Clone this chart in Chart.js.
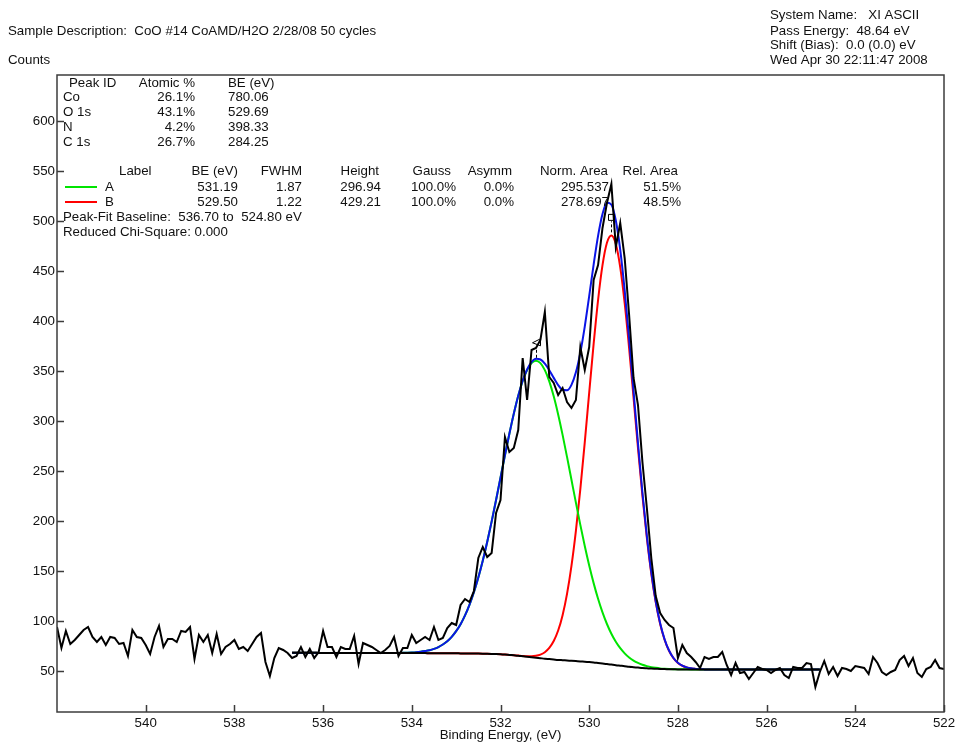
<!DOCTYPE html>
<html>
<head>
<meta charset="utf-8">
<title>O 1s peak fit</title>
<script src="https://cdn.jsdelivr.net/npm/chart.js@4.4.1/dist/chart.umd.min.js"></script>
<style>
  html, body { margin: 0; padding: 0; background: #fff; }
</style>
</head>
<body>
<canvas id="spectrum" width="956" height="744"></canvas>
<script>
// Raw O 1s counts, 542.0 -> 522.0 eV in 0.1 eV steps
const energyStart = 542.0;
const energyStep = 0.1;
const counts = [
  94, 73, 90, 77, 81, 86, 91, 94, 84, 79,
  84, 76, 84, 83, 77, 78, 65, 91, 84, 83,
  76, 67, 84, 95, 74, 82, 82, 79, 90, 89,
  94, 62, 86, 79, 86, 68, 87, 67, 74, 77,
  81, 72, 74, 70, 77, 84, 88, 59, 45, 63,
  73, 71, 68, 63, 65, 74, 64, 72, 63, 69,
  90, 74, 74, 64, 74, 72, 72, 85, 57, 78,
  76, 74, 71, 68, 71, 75, 84, 65, 73, 73,
  86, 78, 81, 84, 81, 94, 81, 83, 93, 98,
  96, 116, 122, 119, 130, 163, 174, 164, 168, 208,
  221, 284, 269, 273, 291, 363, 321, 371, 373, 381,
  409, 344, 338, 326, 333, 319, 313, 321, 374, 351,
  374, 441, 456, 493, 518, 537, 474, 498, 463, 406,
  343, 316, 259, 213, 163, 125, 108, 101, 96, 93,
  63, 76, 68, 64, 59, 53, 64, 62, 64, 64,
  69, 56, 46, 58, 48, 49, 42, 48, 54, 52,
  51, 48, 51, 53, 46, 43, 54, 53, 53, 58,
  57, 34, 49, 60, 47, 54, 45, 53, 52, 50,
  55, 54, 53, 47, 64, 58, 49, 46, 49, 51,
  61, 65, 55, 63, 48, 44, 52, 54, 61, 53,
  52
];

// Shirley background, 536.70 -> 524.80 eV, same step
const baselineStart = 536.7;
const baseline = [
  68.3, 68.3, 68.2, 68.2, 68.2, 68.2, 68.1, 68.1, 68.1, 68.1,
  68.1, 68.1, 68.0, 68.0, 68.0, 68.0, 68.0, 68.0, 68.0, 68.0,
  68.0, 67.9, 67.9, 67.9, 67.9, 67.9, 67.9, 67.9,
  67.9, 67.9, 67.9, 67.8, 67.8, 67.8, 67.8, 67.7, 67.7, 67.7,
  67.6, 67.6, 67.5, 67.5, 67.4, 67.3, 67.2, 67.1, 67.0,
  66.8, 66.5, 66.1, 65.7, 65.3, 64.8, 64.3, 63.8, 63.3, 62.8,
  62.3, 61.9, 61.5, 61.1, 60.8, 60.5, 60.2, 59.9, 59.6, 59.2,
  58.9, 58.5, 58.0, 57.5, 57.0, 56.4, 55.8, 55.3, 54.8, 54.2,
  53.8, 53.4, 53.0, 52.7, 52.4, 52.2, 52.0, 51.9, 51.8, 51.7,
  51.6,
  51.6, 51.6, 51.6, 51.6, 51.5, 51.5, 51.5, 51.5, 51.5, 51.5,
  51.5, 51.5, 51.5, 51.5, 51.5, 51.5, 51.5, 51.5, 51.5, 51.5,
  51.5, 51.5, 51.5, 51.5, 51.5, 51.5, 51.5, 51.5, 51.5, 51.5,
  51.5, 51.5
];

// Fitted peaks (100% Gaussian)
const peakLabels = ['A', 'B'];
const peakCenters = [531.19, 529.50];
const peakFwhm = [1.87, 1.22];
const peakHeights = [296.94, 429.21];
const peakGauss = ['100.0%', '100.0%'];
const peakAsymm = ['0.0%', '0.0%'];
const peakNormArea = ['295.537', '278.697'];
const peakRelArea = ['51.5%', '48.5%'];
const peakColors = ['#00e400', '#ff0000'];

// Survey quantification
const elements = ['Co', 'O 1s', 'N', 'C 1s'];
const atomicPct = ['26.1%', '43.1%', '4.2%', '26.7%'];
const elementBE = ['780.06', '529.69', '398.33', '284.25'];

const xTicks = [540, 538, 536, 534, 532, 530, 528, 526, 524, 522];
const yTicks = [50, 100, 150, 200, 250, 300, 350, 400, 450, 500, 550, 600];

const FONT = "'Liberation Sans', Arial, Helvetica, sans-serif";
const FSIZE = 13.3;

const round = v => Math.round(v * 1000) / 1000;
const dataPts = counts.map((c, i) => ({ x: round(energyStart - i * energyStep), y: c }));
const bgE = baseline.map((b, i) => round(baselineStart - i * energyStep));

function gauss(k, e) {
  const d = e - peakCenters[k];
  return peakHeights[k] * Math.exp(-4 * Math.LN2 * d * d / (peakFwhm[k] * peakFwhm[k]));
}

const bgPts = baseline.map((b, i) => ({ x: bgE[i], y: b }));
const compPts = peakCenters.map((c, k) => baseline.map((b, i) => ({ x: bgE[i], y: b + gauss(k, bgE[i]) })));
const envPts = baseline.map((b, i) => ({ x: bgE[i], y: b + gauss(0, bgE[i]) + gauss(1, bgE[i]) }));

// frame, inward ticks, peak markers and the text blocks
const pageText = {
  id: 'pageText',
  afterDraw(chart) {
    const ctx = chart.ctx;
    const xs = chart.scales.x, ys = chart.scales.y;
    const { left, top, right, bottom } = chart.chartArea;
    ctx.save();

    ctx.strokeStyle = '#3c3c3c';
    ctx.lineWidth = 1.5;
    ctx.strokeRect(left, top, right - left, bottom - top);
    ctx.beginPath();
    xTicks.forEach(v => {
      const px = Math.round(xs.getPixelForValue(v)) + 0.5;
      ctx.moveTo(px, bottom); ctx.lineTo(px, bottom - 7);
    });
    yTicks.forEach(v => {
      const py = Math.round(ys.getPixelForValue(v)) + 0.5;
      ctx.moveTo(left, py); ctx.lineTo(left + 7, py);
    });
    ctx.stroke();

    // peak position markers above each component
    ctx.strokeStyle = '#000';
    ctx.lineWidth = 1;
    compPts.forEach((pts, k) => {
      const topY = Math.max(...pts.map(p => p.y));
      const px = Math.round(xs.getPixelForValue(peakCenters[k])) + 0.5;
      const py = ys.getPixelForValue(topY);
      ctx.setLineDash([3, 2]);
      ctx.beginPath();
      ctx.moveTo(px, py - 3); ctx.lineTo(px, py - 14);
      ctx.stroke();
      ctx.setLineDash([]);
      ctx.beginPath();
      if (k === 0) {
        ctx.moveTo(px + 4, py - 22); ctx.lineTo(px - 4, py - 18); ctx.lineTo(px + 4, py - 15); ctx.closePath();
      } else {
        ctx.rect(px - 3, py - 21, 6, 6);
      }
      ctx.stroke();
    });

    ctx.fillStyle = '#111';
    ctx.font = FSIZE + 'px ' + FONT;
    ctx.textBaseline = 'middle';
    const put = (s, x, y, align) => { ctx.textAlign = align || 'left'; ctx.fillText(s, x, y); };

    put('Sample Description:  CoO #14 CoAMD/H2O 2/28/08 50 cycles', 8, 31);
    put('Counts', 8, 60);
    put('System Name:   XI ASCII', 770, 15);
    put('Pass Energy:  48.64 eV', 770, 31);
    put('Shift (Bias):  0.0 (0.0) eV', 770, 45);
    put('Wed Apr 30 22:11:47 2008', 770, 60);

    put('Peak ID', 69, 83);
    put('Atomic %', 195, 83, 'right');
    put('BE (eV)', 228, 83);
    elements.forEach((el, i) => {
      const y = 97 + i * 15;
      put(el, 63, y);
      put(atomicPct[i], 195, y, 'right');
      put(elementBE[i], 228, y);
    });

    put('Label', 119, 171);
    put('BE (eV)', 238, 171, 'right');
    put('FWHM', 302, 171, 'right');
    put('Height', 379, 171, 'right');
    put('Gauss', 451, 171, 'right');
    put('Asymm', 512, 171, 'right');
    put('Norm. Area', 608, 171, 'right');
    put('Rel. Area', 678, 171, 'right');
    peakLabels.forEach((lb, k) => {
      const y = 187 + k * 15;
      ctx.strokeStyle = peakColors[k];
      ctx.lineWidth = 2;
      ctx.beginPath(); ctx.moveTo(65, y); ctx.lineTo(97, y); ctx.stroke();
      put(lb, 105, y);
      put(peakCenters[k].toFixed(2), 238, y, 'right');
      put(peakFwhm[k].toFixed(2), 302, y, 'right');
      put(peakHeights[k].toFixed(2), 381, y, 'right');
      put(peakGauss[k], 456, y, 'right');
      put(peakAsymm[k], 514, y, 'right');
      put(peakNormArea[k], 609, y, 'right');
      put(peakRelArea[k], 681, y, 'right');
    });
    put('Peak-Fit Baseline:  ' + baselineStart.toFixed(2) + ' to  ' + bgE[bgE.length - 1].toFixed(2) + ' eV', 63, 217);
    put('Reduced Chi-Square: 0.000', 63, 232);
    ctx.restore();
  }
};

const line = (data, color, order, smooth) => ({
  data, borderColor: color, borderWidth: 2, pointRadius: 0, fill: false,
  order, tension: 0, cubicInterpolationMode: smooth ? 'monotone' : 'default'
});

new Chart(document.getElementById('spectrum'), {
  type: 'line',
  data: {
    datasets: [
      line(dataPts, '#000000', 0, false),
      line(bgPts, '#000000', 1, true),
      line(envPts, '#0a14e6', 2, true),
      line(compPts[0], peakColors[0], 3, true),
      line(compPts[1], peakColors[1], 4, true)
    ]
  },
  options: {
    responsive: false,
    devicePixelRatio: 1,
    animation: false,
    parsing: false,
    layout: { padding: { top: 75, right: 12, bottom: 0, left: 0 } },
    plugins: { legend: { display: false }, tooltip: { enabled: false } },
    scales: {
      x: {
        type: 'linear', reverse: true, min: 522, max: 542,
        afterBuildTicks: s => { s.ticks = xTicks.map(v => ({ value: v })); },
        afterFit: s => { s.height = 32; s.paddingLeft = 0; s.paddingRight = 0; },
        grid: { display: false, drawTicks: false },
        border: { display: false },
        ticks: { color: '#111', font: { family: FONT, size: FSIZE }, padding: 3, maxRotation: 0, autoSkip: false },
        title: { display: true, text: 'Binding Energy, (eV)', color: '#111', font: { family: FONT, size: FSIZE }, padding: { top: 0, bottom: 1 } }
      },
      y: {
        min: 9, max: 646,
        afterBuildTicks: s => { s.ticks = yTicks.map(v => ({ value: v })); },
        afterFit: s => { s.width = 57; },
        grid: { display: false, drawTicks: false },
        border: { display: false },
        ticks: { color: '#111', font: { family: FONT, size: FSIZE }, padding: 2 }
      }
    }
  },
  plugins: [pageText]
});
</script>
</body>
</html>
